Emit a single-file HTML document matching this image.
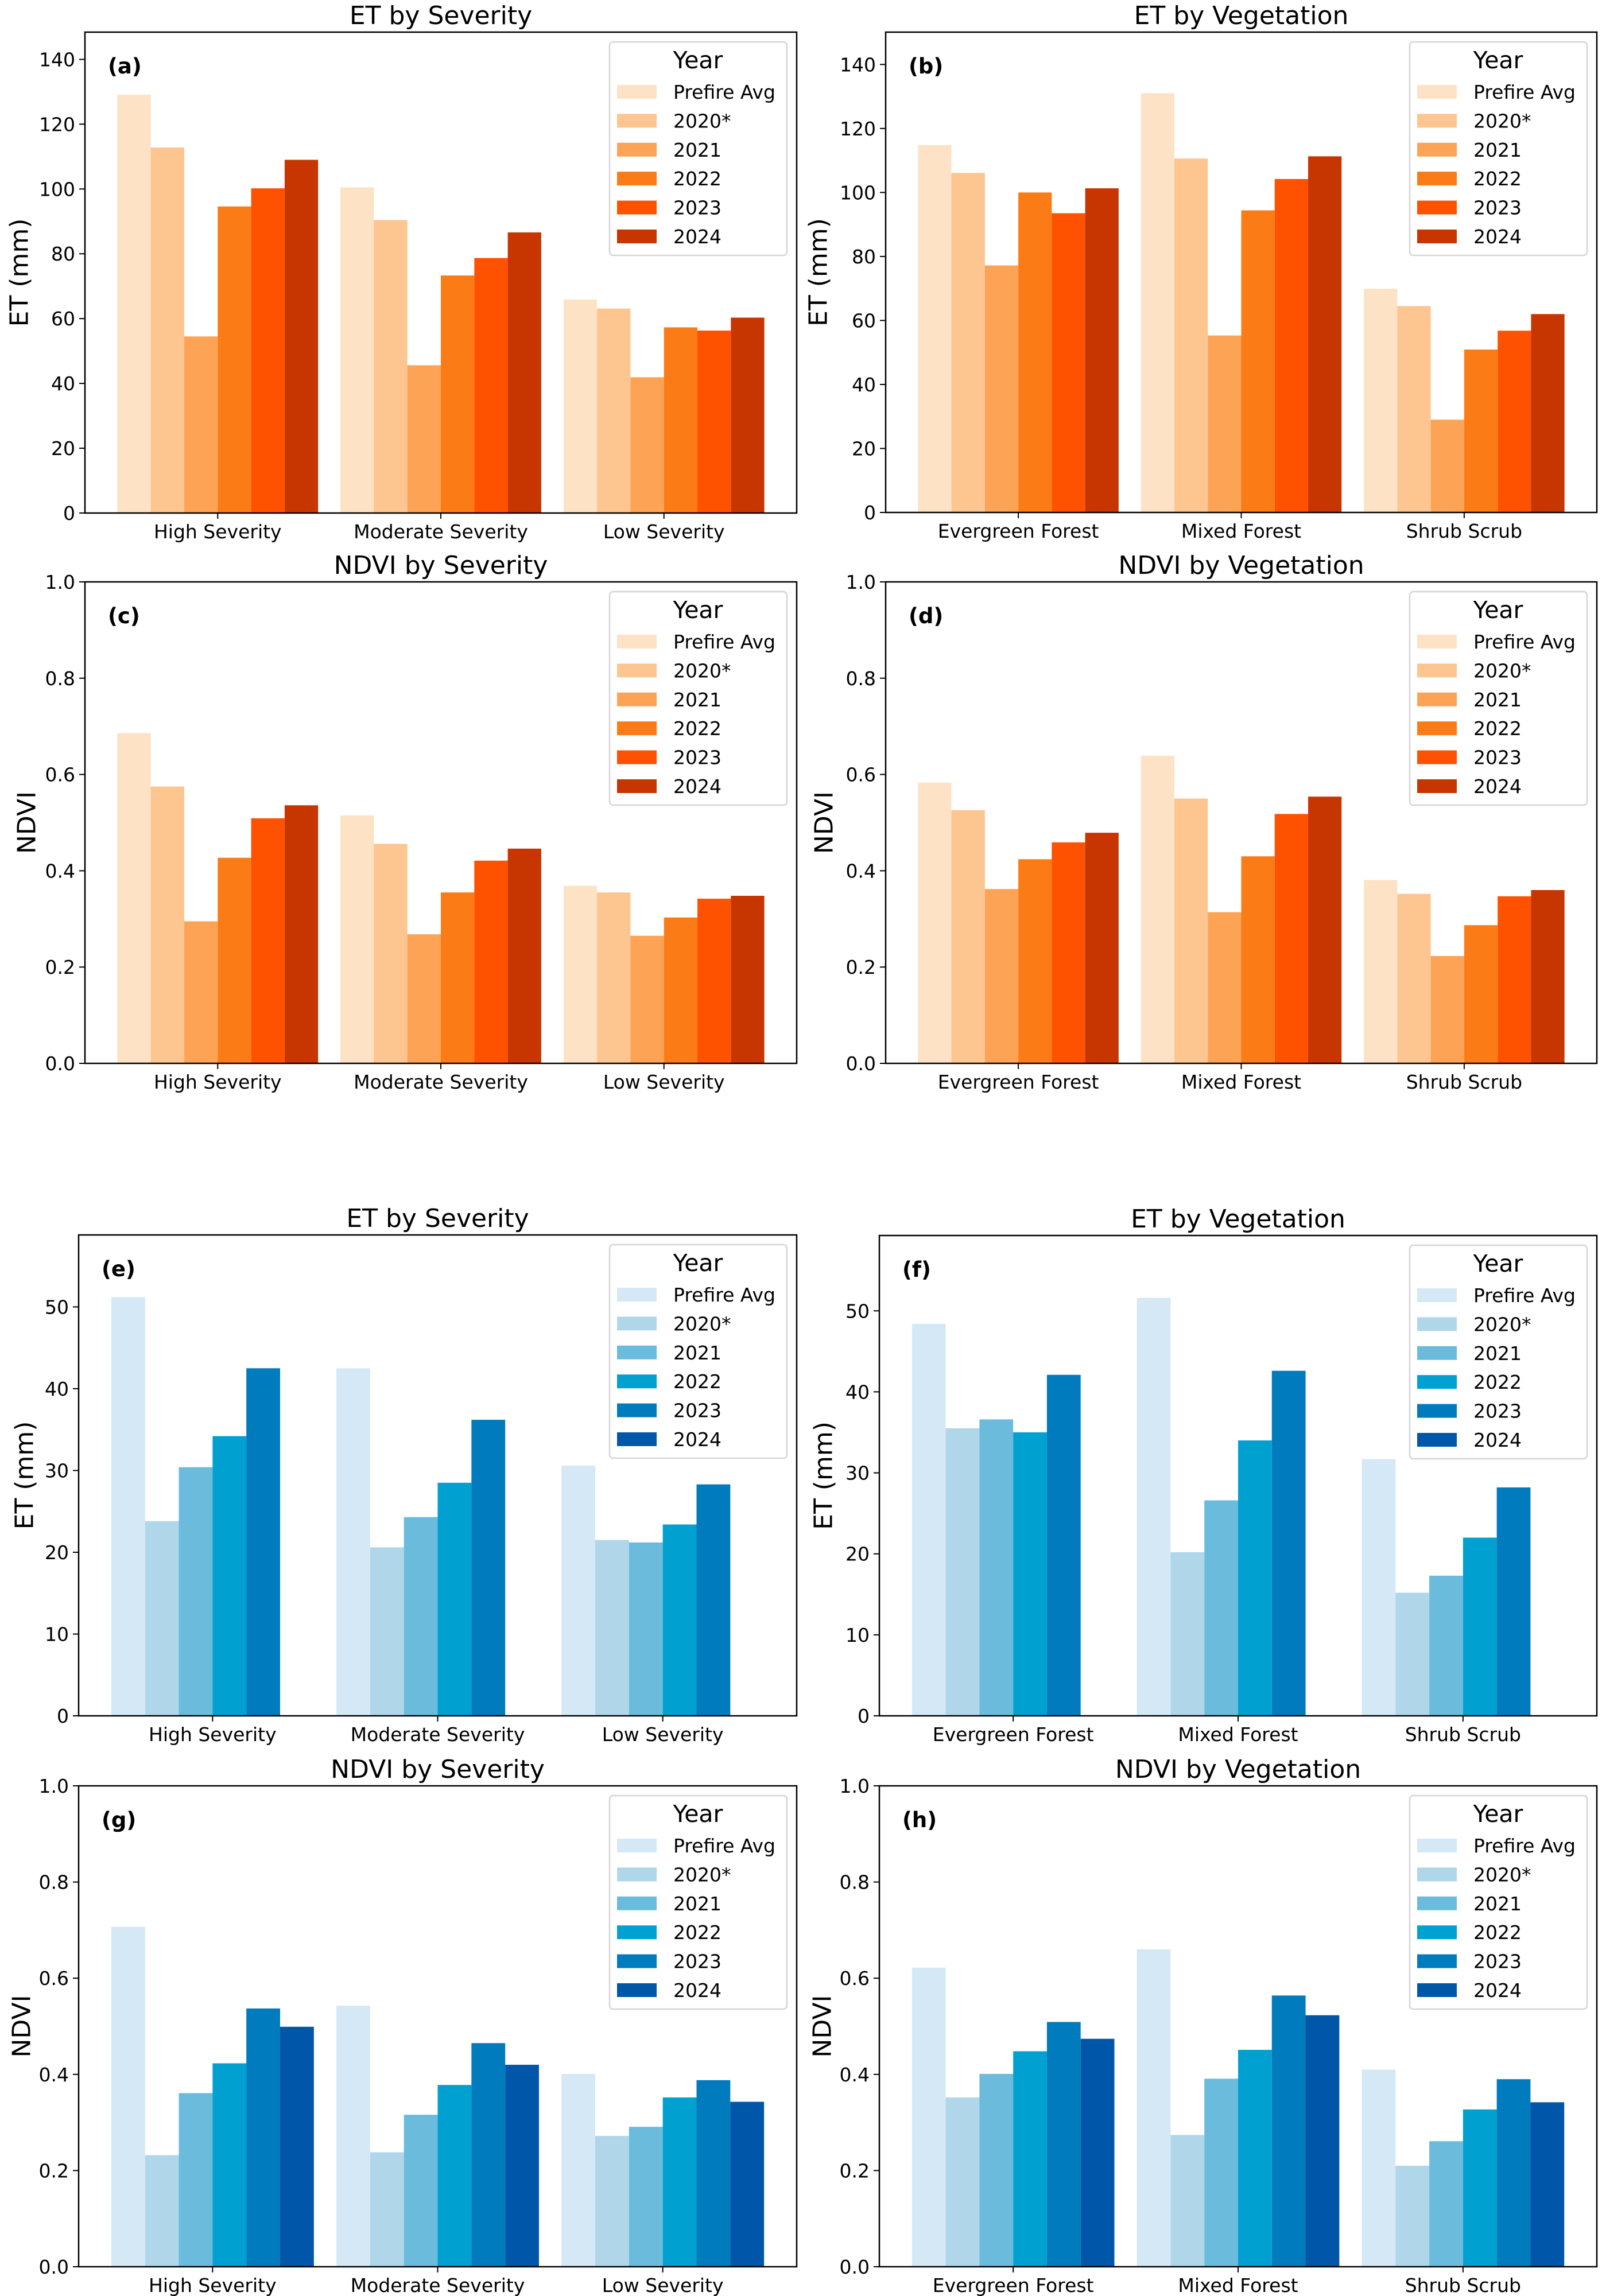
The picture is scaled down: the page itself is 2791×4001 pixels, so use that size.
<!DOCTYPE html>
<html><head><meta charset="utf-8"><style>
html,body{margin:0;padding:0;background:#fff}
svg{display:block}
text{font-family:"DejaVu Sans","Liberation Sans",sans-serif;fill:#000}
</style></head><body>
<svg id="fig" width="2791" height="4001" viewBox="0 0 2791 4001" xmlns="http://www.w3.org/2000/svg"></svg>
<script>
const yearLabels = ["Prefire Avg","2020*","2021","2022","2023","2024"];
const sevCats = ["High Severity","Moderate Severity","Low Severity"];
const vegCats = ["Evergreen Forest","Mixed Forest","Shrub Scrub"];
const orangeColors = ["#fee2c6","#fdc590","#fda356","#fb7b16","#fe5200","#c73600"];
const blueColors = ["#d5e8f6","#b0d6ea","#6bbbdd","#00a0d0","#007bbd","#0056a8"];
const etTicks = [0,20,40,60,80,100,120,140];
const etTicks2 = [0,10,20,30,40,50];
const ndviTicks = [0,0.2,0.4,0.6,0.8,1.0];
// values[category][year]
const aValues = [[129.1,112.8,54.5,94.6,100.2,109.0],[100.5,90.4,45.6,73.3,78.7,86.6],[65.9,63.1,41.9,57.3,56.3,60.3]];
const bValues = [[114.8,106.1,77.2,100.0,93.5,101.3],[131.0,110.6,55.3,94.4,104.2,111.3],[69.9,64.5,29.0,50.9,56.8,62.0]];
const cValues = [[0.686,0.575,0.295,0.427,0.509,0.536],[0.515,0.456,0.268,0.355,0.421,0.446],[0.369,0.355,0.265,0.303,0.342,0.348]];
const dValues = [[0.583,0.526,0.362,0.424,0.459,0.479],[0.639,0.550,0.314,0.430,0.518,0.554],[0.381,0.352,0.223,0.287,0.347,0.360]];
const eValues = [[51.2,23.8,30.4,34.2,42.5,null],[42.5,20.6,24.3,28.5,36.2,null],[30.6,21.5,21.2,23.4,28.3,null]];
const fValues = [[48.4,35.5,36.6,35.0,42.1,null],[51.6,20.2,26.6,34.0,42.6,null],[31.7,15.2,17.3,22.0,28.2,null]];
const gValues = [[0.707,0.232,0.361,0.423,0.537,0.499],[0.543,0.238,0.316,0.378,0.465,0.420],[0.401,0.272,0.291,0.352,0.388,0.343]];
const hValues = [[0.622,0.352,0.401,0.448,0.509,0.474],[0.660,0.274,0.391,0.451,0.564,0.523],[0.410,0.210,0.261,0.327,0.390,0.342]];

const panels = [
 {id:"a",L:148,R:1388,T:56,B:894,ymax:148.4,ticks:etTicks,fmt:v=>String(v),title:"ET by Severity",ylab:"ET (mm)",ylx:34,cats:sevCats,vals:aValues,cols:orangeColors},
 {id:"b",L:1543,R:2782,T:56,B:893,ymax:150.1,ticks:etTicks,fmt:v=>String(v),title:"ET by Vegetation",ylab:"ET (mm)",ylx:1426,cats:vegCats,vals:bValues,cols:orangeColors},
 {id:"c",L:148,R:1388,T:1014,B:1853,ymax:1.0,ticks:ndviTicks,fmt:v=>v.toFixed(1),title:"NDVI by Severity",ylab:"NDVI",ylx:47,cats:sevCats,vals:cValues,cols:orangeColors},
 {id:"d",L:1543,R:2782,T:1014,B:1853,ymax:1.0,ticks:ndviTicks,fmt:v=>v.toFixed(1),title:"NDVI by Vegetation",ylab:"NDVI",ylx:1436,cats:vegCats,vals:dValues,cols:orangeColors},
 {id:"e",L:137,R:1388,T:2152,B:2990,ymax:58.8,ticks:etTicks2,fmt:v=>String(v),title:"ET by Severity",ylab:"ET (mm)",ylx:43,cats:sevCats,vals:eValues,cols:blueColors},
 {id:"f",L:1532,R:2782,T:2153,B:2990,ymax:59.3,ticks:etTicks2,fmt:v=>String(v),title:"ET by Vegetation",ylab:"ET (mm)",ylx:1435,cats:vegCats,vals:fValues,cols:blueColors},
 {id:"g",L:137,R:1388,T:3112,B:3950,ymax:1.0,ticks:ndviTicks,fmt:v=>v.toFixed(1),title:"NDVI by Severity",ylab:"NDVI",ylx:38,cats:sevCats,vals:gValues,cols:blueColors},
 {id:"h",L:1532,R:2782,T:3112,B:3950,ymax:1.0,ticks:ndviTicks,fmt:v=>v.toFixed(1),title:"NDVI by Vegetation",ylab:"NDVI",ylx:1433,cats:vegCats,vals:hValues,cols:blueColors}
];
const NS="http://www.w3.org/2000/svg";
const svg=document.getElementById("fig");
function mk(tag,attrs,parent){const e=document.createElementNS(NS,tag);for(const k in attrs)e.setAttribute(k,attrs[k]);(parent||svg).appendChild(e);return e;}

panels.forEach(p=>{
  const g=mk("g",{});
  
  
  const xs=v=>p.L+(v+0.595)/3.19*(p.R-p.L);
  const ys=v=>p.B-v/p.ymax*(p.B-p.T);
  const bw=0.15*(xs(1)-xs(0));
  // bars
  p.vals.forEach((row,ci)=>{
    row.forEach((v,yi)=>{
      if(v===null)return;
      const x=xs(ci)+(yi-3)*bw;
      const r=mk("rect",{x:x,y:ys(v),width:bw,height:ys(0)-ys(v),fill:p.cols[yi]},g);
      
      
    });
  });
  // frame
  const fr=mk("rect",{x:p.L,y:p.T,width:p.R-p.L,height:p.B-p.T,fill:"none",stroke:"#000","stroke-width":2.5},g);
  
  
  // y ticks
  p.ticks.forEach(t=>{
    const y=ys(t);
    mk("line",{x1:p.L-10,x2:p.L,y1:y,y2:y,stroke:"#000","stroke-width":2},g);
    const tx=mk("text",{x:p.L-17,y:y+12,"text-anchor":"end","font-size":33},g);
    tx.textContent=p.fmt(t);
    
    
  });
  // x ticks
  p.cats.forEach((c,ci)=>{
    const x=xs(ci);
    mk("line",{x1:x,x2:x,y1:p.B,y2:p.B+10,stroke:"#000","stroke-width":2},g);
    const tx=mk("text",{x:x,y:p.B+44,"text-anchor":"middle","font-size":33},g);
    tx.textContent=c;
    
    
  });
  // title
  const tt=mk("text",{x:(p.L+p.R)/2,y:p.T-14,"text-anchor":"middle","font-size":44},g);
  tt.textContent=p.title;
  
  
  // y label
  const cy=(p.T+p.B)/2;
  const yl=mk("text",{x:p.ylx,y:cy,"text-anchor":"middle","dominant-baseline":"central","font-size":44,transform:`rotate(-90 ${p.ylx} ${cy})`},g);
  yl.textContent=p.ylab;
  
  
  // panel letter
  const pl=mk("text",{x:p.L+40,y:p.T+72,"font-size":37,"font-weight":"bold"},g);
  pl.textContent="("+p.id+")";
  
  
  // legend
  const lx=p.R-326, ly=p.T+17;
  const lg=mk("g",{},g);
  
  
  mk("rect",{x:lx,y:ly,width:309,height:372,rx:6,fill:"#fff","fill-opacity":0.85,stroke:"#d6d6d6","stroke-width":2.5},lg);
  const lt=mk("text",{x:lx+154,y:ly+46,"text-anchor":"middle","font-size":41},lg);
  lt.textContent="Year";
  
  
  yearLabels.forEach((yl2,i)=>{
    const cyy=ly+87+i*50.4;
    const sw=mk("rect",{x:lx+13,y:cyy-12,width:69,height:24,fill:p.cols[i]},lg);
    
    
    const et=mk("text",{x:lx+111,y:cyy+12,"font-size":33},lg);
    et.textContent=yl2;
    
    
  });
});
</script>
</body></html>
